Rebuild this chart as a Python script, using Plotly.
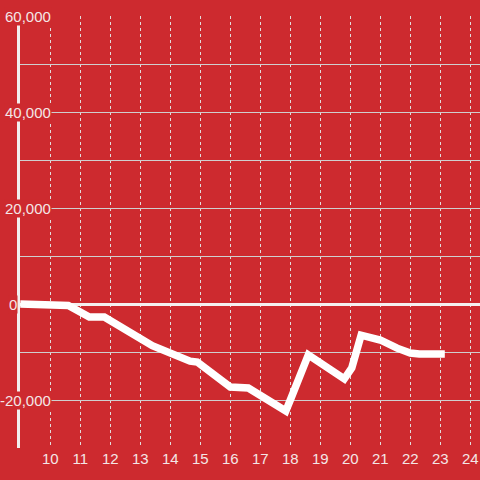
import plotly.graph_objects as go

# data
day = [9.0, 10.0, 10.6, 11.3, 11.8, 13.4, 13.7, 14.66, 14.9, 16.0, 16.6,
       17.75, 17.85, 18.0, 18.6, 19.8, 20.05, 20.36, 21.0, 21.56, 22.0, 22.3, 23.15]
value = [0, 0, -300, -2700, -2700, -8700, -9500, -11900, -12100, -17300, -17500,
         -22100, -22300, -20000, -10600, -15600, -13300, -6500, -7500, -9200, -10200, -10400, -10400]

x_ticks = list(range(10, 25))
y_grid_step = 10000
y_label_vals = [60000, 40000, 20000, 0, -20000]
y_label_text = ["60,000", "40,000", "20,000", "0", "-20,000"]

BG = "#CD2A2F"
TXT = "#F4E6E6"
FONT = "Liberation Sans"

fig = go.Figure()
fig.add_trace(go.Scatter(
    x=day, y=value, mode="lines",
    line=dict(color="white", width=7.5),
    hoverinfo="skip", showlegend=False,
))

ann = []
for v, t in zip(y_label_vals, y_label_text):
    if t == "0":
        ann.append(dict(x=0, xref="paper", y=v, yref="y", text=t, showarrow=False,
                        xanchor="left", xshift=-12, bgcolor=BG, borderpad=0,
                        font=dict(size=15, color=TXT, family=FONT)))
    else:
        ann.append(dict(x=0, xref="paper", y=v, yref="y", text=t, showarrow=False,
                        xanchor="right", xshift=32, bgcolor=BG, borderpad=0,
                        font=dict(size=15, color=TXT, family=FONT)))

fig.update_layout(
    width=480, height=480,
    margin=dict(l=20, r=0, t=16, b=32, autoexpand=False),
    paper_bgcolor=BG, plot_bgcolor=BG,
    font=dict(family=FONT, size=15, color=TXT),
    annotations=ann,
    xaxis=dict(
        range=[8.99, 24.323], tickvals=x_ticks, ticktext=[str(t) for t in x_ticks],
        showgrid=True, gridcolor="#E2DCDC", gridwidth=1, griddash="dot",
        showline=False, zeroline=False, ticks="", fixedrange=True, automargin=False,
        tickfont=dict(size=15, color=TXT, family=FONT),
    ),
    yaxis=dict(
        range=[-30000, 60000], dtick=y_grid_step, tick0=0,
        showgrid=True, gridcolor="#CFCFCF", gridwidth=1,
        showticklabels=False, ticks="", automargin=False,
        showline=True, linecolor="#F2EEEE", linewidth=3,
        zeroline=True, zerolinecolor="#F4F0F0", zerolinewidth=3,
        fixedrange=True,
    ),
)

fig.write_html("out.html", config={"displayModeBar": False},
               post_script="document.body.style.margin='0';document.body.style.padding='0';")
